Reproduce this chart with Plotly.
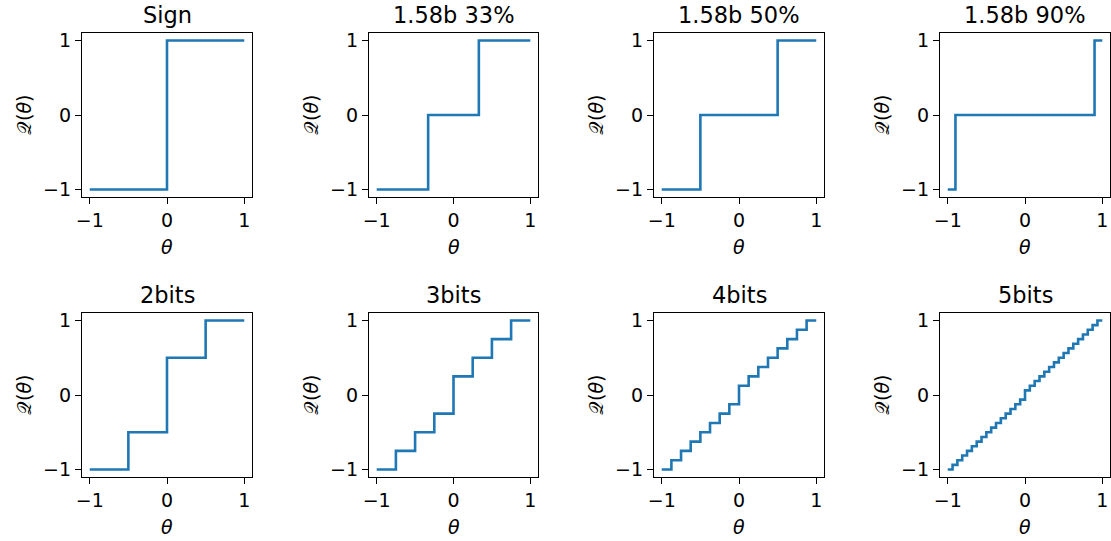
import plotly.graph_objects as go

W, H = 1111, 541

titles = ["Sign", "1.58b 33%", "1.58b 50%", "1.58b 90%", "2bits", "3bits", "4bits", "5bits"]

sign_x = [-1, 0, 1]
sign_y = [-1, 1, 1]

t33_x = [-1, -0.33, 0.33, 1]
t33_y = [-1, 0, 1, 1]

t50_x = [-1, -0.5, 0.5, 1]
t50_y = [-1, 0, 1, 1]

t90_x = [-1, -0.9, 0.9, 1]
t90_y = [-1, 0, 1, 1]

b2_x = [-1, -0.5, 0, 0.5, 1]
b2_y = [-1, -0.5, 0.5, 1, 1]

b3_x = [-1, -0.75, -0.5, -0.25, 0, 0.25, 0.5, 0.75, 1]
b3_y = [-1, -0.75, -0.5, -0.25, 0.25, 0.5, 0.75, 1, 1]

b4_x = [-1, -0.875, -0.75, -0.625, -0.5, -0.375, -0.25, -0.125, 0,
        0.125, 0.25, 0.375, 0.5, 0.625, 0.75, 0.875, 1]
b4_y = [-1, -0.875, -0.75, -0.625, -0.5, -0.375, -0.25, -0.125,
        0.125, 0.25, 0.375, 0.5, 0.625, 0.75, 0.875, 1, 1]

b5_x = [-1, -0.9375, -0.875, -0.8125, -0.75, -0.6875, -0.625, -0.5625,
        -0.5, -0.4375, -0.375, -0.3125, -0.25, -0.1875, -0.125, -0.0625, 0,
        0.0625, 0.125, 0.1875, 0.25, 0.3125, 0.375, 0.4375, 0.5,
        0.5625, 0.625, 0.6875, 0.75, 0.8125, 0.875, 0.9375, 1]
b5_y = [-1, -0.9375, -0.875, -0.8125, -0.75, -0.6875, -0.625, -0.5625,
        -0.5, -0.4375, -0.375, -0.3125, -0.25, -0.1875, -0.125, -0.0625,
        0.0625, 0.125, 0.1875, 0.25, 0.3125, 0.375, 0.4375, 0.5,
        0.5625, 0.625, 0.6875, 0.75, 0.8125, 0.875, 0.9375, 1, 1]

series = [(sign_x, sign_y), (t33_x, t33_y), (t50_x, t50_y), (t90_x, t90_y),
          (b2_x, b2_y), (b3_x, b3_y), (b4_x, b4_y), (b5_x, b5_y)]

tick_vals = [-1, 0, 1]
tick_text = ["\u22121", "0", "1"]

# pixel boxes of axes
col_px = [(82, 252), (369, 538), (654, 824), (940, 1110)]
row_px = [(33, 197), (313, 477)]

FONT = "DejaVu Sans"
fig = go.Figure()
annotations = []
for i, ((xs, ys), title) in enumerate(zip(series, titles)):
    r, c = divmod(i, 4)
    x0, x1 = col_px[c]
    y0, y1 = row_px[r]
    dx = [x0 / W, x1 / W]
    dy = [1 - y1 / H, 1 - y0 / H]
    n = "" if i == 0 else str(i + 1)
    fig.add_trace(go.Scatter(x=xs, y=ys, mode="lines", line_shape="hv",
                             line=dict(color="#1f77b4", width=2.6),
                             xaxis="x" + n, yaxis="y" + n, showlegend=False,
                             hoverinfo="skip"))
    common = dict(range=[-1.1, 1.1], tickvals=tick_vals, ticktext=tick_text,
                  showgrid=False, zeroline=False, showline=True, mirror=True,
                  linecolor="black", linewidth=1.3, ticks="outside", ticklen=6,
                  tickwidth=1.3, tickcolor="black", automargin=False,
                  tickfont=dict(family=FONT, size=19, color="black"),
                  fixedrange=True)
    fig.update_layout(**{
        "xaxis" + n: dict(domain=dx, anchor="y" + n, **common),
        "yaxis" + n: dict(domain=dy, anchor="x" + n, **common),
    })
    cx = (dx[0] + dx[1]) / 2
    cy = (dy[0] + dy[1]) / 2
    annotations.append(dict(text=title, x=cx, y=dy[1], xref="paper", yref="paper",
                            xanchor="center", yanchor="bottom", yshift=3,
                            showarrow=False,
                            font=dict(family=FONT, size=22.5, color="black")))
    annotations.append(dict(text="<i>θ</i>", x=cx, y=dy[0], xref="paper", yref="paper",
                            xanchor="center", yanchor="middle", yshift=-50,
                            showarrow=False,
                            font=dict(family=FONT, size=19, color="black")))
    annotations.append(dict(text="𝒬(<i>θ</i>)", x=dx[0], y=cy, xref="paper", yref="paper",
                            xanchor="center", yanchor="middle", xshift=-58,
                            textangle=-90, showarrow=False,
                            font=dict(family=FONT, size=19, color="black")))

fig.update_layout(width=W, height=H, margin=dict(l=0, r=0, t=0, b=0),
                  paper_bgcolor="white", plot_bgcolor="white",
                  annotations=annotations)
fig.write_html("out.html", config={"displayModeBar": False},
               post_script="document.body.style.margin='0';document.body.style.overflow='hidden';")
